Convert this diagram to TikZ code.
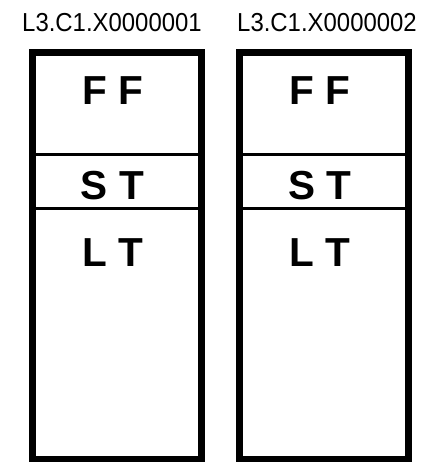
\documentclass[tikz,border=0pt]{standalone}
\usepackage{fontspec}
\setmainfont{Liberation Sans}
\newfontfamily\narrowfont[FakeStretch=0.92]{Liberation Sans}
\usetikzlibrary{positioning}
\tikzset{
  frame/.style={draw=black, line width=7pt},
  sep/.style={draw=black, line width=3pt},
  part/.style={font=\bfseries\fontsize{40.5}{40.5}\selectfont, inner sep=0pt},
  idlabel/.style={font=\narrowfont\fontsize{26}{26}\selectfont, inner sep=0pt}
}
\begin{document}
\begin{tikzpicture}[x=1pt,y=-1pt]
  \useasboundingbox (0,0) rectangle (425,462);

  % two record boxes
  \foreach \n/\x/\lx in {1/32/112, 2/239.5/327} {
    % outline and separators
    \draw[frame] (\x,53) rectangle ++(169,406.5);
    \coordinate (a\n) at (\x,155);
    \coordinate (b\n) at (\x+169,155);
    \coordinate (c\n) at (\x,208);
    \coordinate (d\n) at (\x+169,208);
    \draw[sep] (a\n) -- (b\n);
    \draw[sep] (c\n) -- (d\n);

    % texts
    \node[idlabel] (id\n) at (\lx,22.5) {L3.C1.X000000\n};
    \node[part] (ff\n) at (\x+80.5,91) {F F};
    \node[part] (st\n) at (\x+80.5,185.5) {S T};
    \node[part] (lt\n) at (\x+80.5,253) {L T};
  }
\end{tikzpicture}
\end{document}
